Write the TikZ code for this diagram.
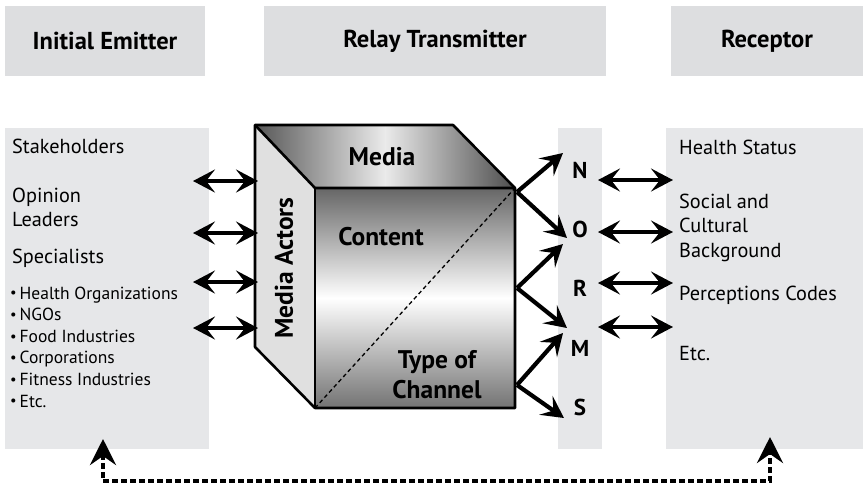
\documentclass[tikz,border=0pt]{standalone}
\usepackage{fontspec}
\setmainfont{PT Sans}
\usepackage{tikz}
\usetikzlibrary{positioning, arrows.meta}
\usepackage{xcolor}
\definecolor{headgray}{RGB}{221,222,224}
\definecolor{panelgray}{RGB}{230,231,233}
\tikzset{>={Stealth[length=22pt,width=23pt,inset=9pt]}}
\newcommand{\dotbullet}{\raisebox{0.12ex}{\fontsize{14.5}{14}\selectfont\textbullet}\,}

\begin{document}
\begin{tikzpicture}[x=1pt, y=-1pt,
                    line cap=butt, line join=miter,
                    head/.style={fill=headgray, minimum height=70pt, inner sep=0pt,
                                 font=\bfseries\fontsize{24.5}{28}\selectfont},
                    panel/.style={fill=panelgray},
                    item/.style={anchor=base west, inner sep=0pt,
                                 font=\fontsize{20.3}{24}\selectfont},
                    subitem/.style={anchor=base west, inner sep=0pt,
                                    font=\fontsize{17.5}{21}\selectfont},
                    cubetext/.style={inner sep=0pt, font=\bfseries\fontsize{25.5}{30}\selectfont},
                    letter/.style={inner sep=0pt, font=\bfseries\fontsize{23}{24}\selectfont},
                    edge/.style={line width=2.6pt, line join=round},
                    link/.style={<->, line width=4.2pt},
                    spread/.style={->, line width=4.2pt},
                    feedback/.style={line width=4.4pt, dash pattern=on 5.5pt off 3.5pt,
                                     arrows={Stealth[length=26pt,width=26pt,inset=9pt]-Stealth[length=26pt,width=26pt,inset=9pt]}}]
  \useasboundingbox (0,0) rectangle (863,488);

  % column heads
  \node[head, minimum width=200pt] (emitter)  at (105,41) {Initial Emitter};
  \node[head, minimum width=342pt] (relay)    at (435,41) {Relay Transmitter};
  \node[head, minimum width=192pt] (receptor) at (767,41) {Receptor};

  % grey columns
  \fill[panel] (5,128) rectangle (209,449);
  \fill[panel] (558,128) rectangle (602,449);
  \fill[panel] (666,128) rectangle (863,449);

  % emitter side
  \node[item] (stake)  at (12,153) {Stakeholders};
  \node[item] (opin1)  at (12,202) {Opinion};
  \node[item] (opin2)  at (12,226) {Leaders};
  \node[item] (spec)   at (12,263) {Specialists};
  \foreach \txt [count=\i] in {Health Organizations, NGOs, Food Industries,
                               Corporations, Fitness Industries, Etc.}
    \node[subitem] (spec\i) at (10,{299+21.6*(\i-1)}) {\dotbullet\txt};

  % receptor side
  \node[item] (health) at (679,154) {Health Status};
  \node[item] (soc1)   at (679,208) {Social and};
  \node[item] (soc2)   at (679,232) {Cultural};
  \node[item] (soc3)   at (679,257) {Background};
  \node[item] (percep) at (679,300) {Perceptions Codes};
  \node[item] (etc)    at (679,360) {Etc.};

  % the media cube
  \coordinate (B1) at (255,125);
  \coordinate (B2) at (453,125);
  \coordinate (F1) at (315,188);
  \coordinate (F2) at (515,188);
  \coordinate (F3) at (515,408);
  \coordinate (F4) at (315,408);
  \coordinate (L1) at (255,347);

  \fill[black!12] (B1) -- (F1) -- (F4) -- (L1) -- cycle;
  \shade[left color=black!66, right color=black!70, middle color=black!8]
    (B1) -- (B2) -- (F2) -- (F1) -- cycle;
  \shade[shading angle=45, top color=black!60, bottom color=black!55, middle color=white]
    (F1) -- (F2) -- (F3) -- (F4) -- cycle;
  \draw[line width=1.3pt, dash pattern=on 4pt off 3pt] (F4) -- (F2);
  \draw[edge] (B1) -- (B2) -- (F2) -- (F3) -- (F4) -- (L1) -- cycle;
  \draw[edge] (B1) -- (F1) -- (F2);
  \draw[edge] (F1) -- (F4);

  \node[cubetext] (media)   at (382,157) {Media};
  \node[cubetext, rotate=90] (actors) at (284,268) {Media Actors};
  \node[cubetext] (content) at (381,237) {Content};
  \node[cubetext, align=center] (channel) at (437,375) {Type of\\Channel};

  % NORMS
  \foreach \l/\y in {N/170, O/229, R/288, M/348, S/407}
    \node[letter] (\l) at (580,\y) {\l};

  \coordinate (v1) at (517,192);
  \coordinate (v2) at (517,288);
  \coordinate (v3) at (517,385);
  \coordinate (t1) at (563,153);
  \coordinate (t2) at (567,238);
  \coordinate (t3) at (563,244);
  \coordinate (t4) at (567,328);
  \coordinate (t5) at (563,333);
  \coordinate (t6) at (564,418);
  \draw[spread] (v1) -- (t1);
  \draw[spread] (v1) -- (t2);
  \draw[spread] (v2) -- (t3);
  \draw[spread] (v2) -- (t4);
  \draw[spread] (v3) -- (t5);
  \draw[spread] (v3) -- (t6);

  % two-way links
  \foreach \y [count=\i] in {181, 233, 282, 328} {
    \coordinate (la\i) at (193,\y);
    \coordinate (lb\i) at (258,\y);
    \draw[link] (la\i) -- (lb\i);
  }
  \foreach \y [count=\i] in {180, 232, 283, 327} {
    \coordinate (ra\i) at (598,\y);
    \coordinate (rb\i) at (673,\y);
    \draw[link] (ra\i) -- (rb\i);
  }

  % feedback loop
  \coordinate (fbl) at (103,439);
  \coordinate (fbc) at (770,481);
  \coordinate (fbr) at (770,437);
  \draw[feedback] (fbl) |- (fbc) -- (fbr);
\end{tikzpicture}
\end{document}
